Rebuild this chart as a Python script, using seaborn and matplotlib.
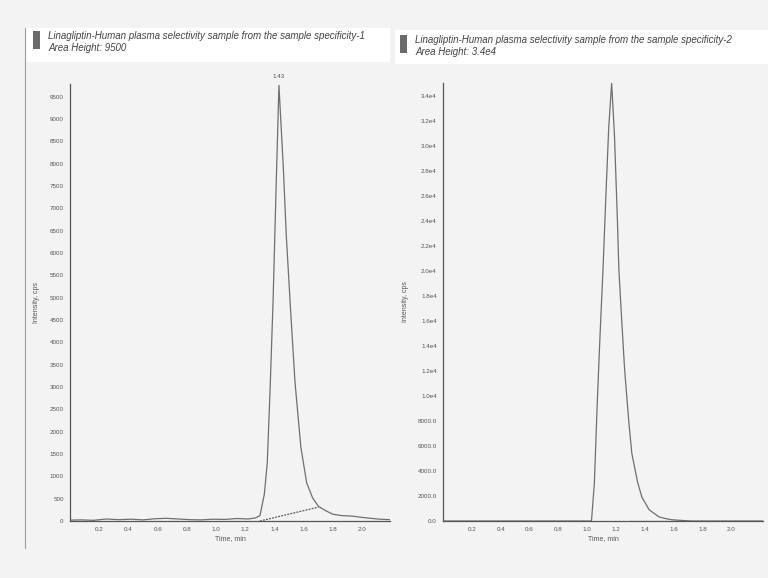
import numpy as np
import pandas as pd
import matplotlib
matplotlib.use("Agg")
import matplotlib.pyplot as plt
from matplotlib.ticker import MultipleLocator, FixedLocator, FixedFormatter
from matplotlib.patches import Rectangle
from matplotlib.lines import Line2D
import seaborn as sns

# chromatogram 1
left_time = [0.00, 0.08, 0.16, 0.25, 0.33, 0.42, 0.50, 0.58, 0.66, 0.74, 0.82, 0.90, 0.98,
             1.06, 1.14, 1.22, 1.27, 1.30, 1.33, 1.35, 1.37, 1.39, 1.41, 1.43, 1.46, 1.48,
             1.51, 1.54, 1.58, 1.62, 1.66, 1.70, 1.75, 1.80, 1.86, 1.93, 2.00, 2.06, 2.12, 2.19]
left_int = [20, 25, 15, 45, 30, 40, 25, 50, 60, 45, 30, 25, 40,
            35, 55, 45, 70, 120, 600, 1300, 3000, 4950, 7400, 9750, 7900, 6400,
            4700, 3100, 1650, 850, 520, 330, 230, 150, 120, 110, 80, 60, 40, 30]
left_base_time = [1.30, 1.70]
left_base_int = [0, 310]
left_peak_label = "1.43"

# chromatogram 2
right_time = [0.00, 0.20, 0.40, 0.60, 0.80, 0.95, 1.03, 1.05, 1.07, 1.09, 1.11, 1.13, 1.15,
              1.17, 1.19, 1.21, 1.22, 1.24, 1.26, 1.29, 1.31, 1.35, 1.38, 1.43, 1.50, 1.55,
              1.59, 1.65, 1.72, 1.85, 2.00, 2.22]
right_int = [0, 0, 0, 0, 0, 0, 0, 3000, 9400, 15000, 20100, 26000, 31500,
             35000, 30700, 24000, 20100, 16000, 12100, 7800, 5400, 3100, 1900, 900, 320, 180,
             100, 50, 0, 0, 0, 0]
right_base_time = [1.30, 1.72]
right_base_int = [0, 0]

left_yticks = list(range(0, 10000, 500))
right_yticks = list(range(0, 36000, 2000))
right_yticklabels = ["0.0", "2000.0", "4000.0", "6000.0", "8000.0", "1.0e4", "1.2e4", "1.4e4",
                     "1.6e4", "1.8e4", "2.0e4", "2.2e4", "2.4e4", "2.6e4", "2.8e4", "3.0e4",
                     "3.2e4", "3.4e4"]
xticks = [0.2, 0.4, 0.6, 0.8, 1.0, 1.2, 1.4, 1.6, 1.8, 2.0]
titles = ["Linagliptin-Human plasma selectivity sample from the sample specificity-1\nArea Height: 9500",
          "Linagliptin-Human plasma selectivity sample from the sample specificity-2\nArea Height: 3.4e4"]

sns.set_style("white")
plt.rcParams["font.family"] = ["Liberation Sans", "DejaVu Sans"]

bg = "#f3f3f3"
ink = "#6f6f6f"
fig = plt.figure(figsize=(7.68, 5.78), dpi=100, facecolor=bg)

# title bands + frame line
fig.add_artist(Rectangle((25 / 768, 1 - 62 / 578), 365 / 768, 34 / 578, transform=fig.transFigure,
                         facecolor="white", edgecolor="none", zorder=0))
fig.add_artist(Rectangle((395 / 768, 1 - 64 / 578), 373 / 768, 34 / 578, transform=fig.transFigure,
                         facecolor="white", edgecolor="none", zorder=0))
fig.add_artist(Line2D([25 / 768, 25 / 768], [1 - 28 / 578, 1 - 548 / 578], transform=fig.transFigure,
                      color="#9a9a9a", lw=0.8))
for xi, yi in [(33, 31), (400, 35)]:
    fig.add_artist(Rectangle((xi / 768, 1 - (yi + 18) / 578), 7 / 768, 18 / 578,
                             transform=fig.transFigure, facecolor="#6a6a6a", edgecolor="none"))
fig.text(48 / 768, 1 - 31 / 578, titles[0], fontsize=7.0, style="italic", color="#444444",
         va="top", ha="left", linespacing=1.25)
fig.text(415 / 768, 1 - 35 / 578, titles[1], fontsize=7.0, style="italic", color="#444444",
         va="top", ha="left", linespacing=1.25)

axl = fig.add_axes([70 / 768, 1 - 521 / 578, 320 / 768, 437 / 578])
axr = fig.add_axes([443 / 768, 1 - 521 / 578, 320 / 768, 438 / 578])

dl = pd.DataFrame({"t": left_time, "i": left_int})
dr = pd.DataFrame({"t": right_time, "i": right_int})
sns.lineplot(data=dl, x="t", y="i", ax=axl, color=ink, lw=0.9, estimator=None, sort=False)
sns.lineplot(x=left_base_time, y=left_base_int, ax=axl, color="#555555", lw=0.9, ls=(0, (1.5, 1)))
sns.lineplot(data=dr, x="t", y="i", ax=axr, color=ink, lw=0.9, estimator=None, sort=False)
sns.lineplot(x=right_base_time, y=right_base_int, ax=axr, color="#555555", lw=0.9, ls=(0, (1.5, 1)))

peak = int(np.argmax(left_int))
axl.text(left_time[peak], left_int[peak] + 150, left_peak_label, fontsize=4.5, color="#555555",
         ha="center", va="bottom", clip_on=False)

axl.set_xlim(0, 2.19)
axl.set_ylim(0, 9780)
axr.set_xlim(0, 2.22)
axr.set_ylim(0, 35000)

axl.yaxis.set_major_locator(FixedLocator(left_yticks))
axl.yaxis.set_minor_locator(MultipleLocator(100))
axr.yaxis.set_major_locator(FixedLocator(right_yticks))
axr.yaxis.set_major_formatter(FixedFormatter(right_yticklabels))
axr.yaxis.set_minor_locator(MultipleLocator(400))

for ax in (axl, axr):
    ax.set_facecolor(bg)
    ax.patch.set_alpha(0)
    ax.xaxis.set_major_locator(FixedLocator(xticks))
    ax.xaxis.set_minor_locator(MultipleLocator(0.05))
    ax.set_xticklabels([f"{v:.1f}" for v in xticks])
    sns.despine(ax=ax)
    for s in ("left", "bottom"):
        ax.spines[s].set_color("#555555")
        ax.spines[s].set_linewidth(0.9)
    ax.tick_params(which="major", direction="out", length=2.5, width=0.6, colors="#555555",
                   labelsize=4.5, pad=2)
    ax.tick_params(which="minor", direction="out", length=1.2, width=0.4, colors="#555555")
    ax.set_xlabel("Time, min", fontsize=5, color="#555555", labelpad=2)
    ax.set_ylabel("Intensity, cps", fontsize=5, color="#555555", labelpad=7)

axr.yaxis.labelpad = 6

fig.savefig("out.png", dpi=100, facecolor=bg)
